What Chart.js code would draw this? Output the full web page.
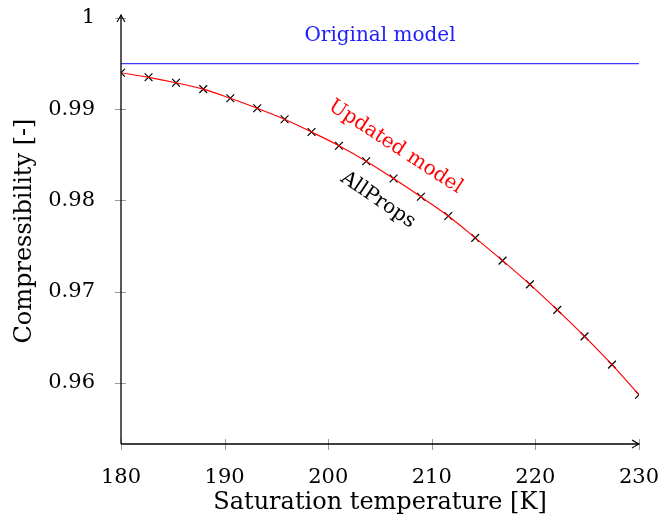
<!DOCTYPE html>
<html>
<head>
<meta charset="utf-8">
<script src="https://cdn.jsdelivr.net/npm/chart.js@4.4.1/dist/chart.umd.min.js"></script>
<style>
  html, body { margin: 0; padding: 0; background: #fff; }
  #wrap { width: 661px; height: 520px; }
</style>
</head>
<body>
<div id="wrap"><canvas id="chart"></canvas></div>
<script>
// values
const temps = [180, 182.66, 185.31, 187.94, 190.55, 193.15, 195.79, 198.39, 201.04, 203.67,
               206.31, 208.95, 211.59, 214.19, 216.83, 219.47, 222.11, 224.74, 227.39, 230];
const allProps = [0.9940, 0.9935, 0.9929, 0.9922, 0.9912, 0.9901, 0.9889, 0.9875, 0.9860, 0.9843,
                  0.9824, 0.9804, 0.9783, 0.9759, 0.9734, 0.9708, 0.9680, 0.9651, 0.9620, 0.9587];
const updatedModel = allProps;
const originalX = [180, 230];
const originalY = [0.995, 0.995];
const xTicks = [180, 190, 200, 210, 220, 230];
const yTicks = [0.96, 0.97, 0.98, 0.99, 1];

const FONT = '"DejaVu Serif", serif';

// label text: [text, x, y, angle(deg), colour, size]
const notes = [
  ['Original model', 205.0, 0.99804, 0, 'rgb(30,30,255)', 20],
  ['Updated model', 206.5, 0.98587, 33, 'rgb(255,0,0)', 20],
  ['AllProps', 204.8, 0.98005, 34, '#000', 20]
];

const axesPlugin = {
  id: 'axes',
  afterDraw(chart) {
    const ctx = chart.ctx;
    const xs = chart.scales.x, ys = chart.scales.y;
    const a = chart.chartArea;
    ctx.save();

    // tick marks crossing the axes
    ctx.strokeStyle = '#9a9a9a';
    ctx.lineWidth = 1;
    xTicks.forEach(v => {
      const px = Math.round(xs.getPixelForValue(v)) + 0.5;
      ctx.beginPath(); ctx.moveTo(px, a.bottom - 5); ctx.lineTo(px, a.bottom + 6); ctx.stroke();
    });
    yTicks.forEach(v => {
      const py = Math.round(ys.getPixelForValue(v)) + 0.5;
      ctx.beginPath(); ctx.moveTo(a.left - 6, py); ctx.lineTo(a.left + 5, py); ctx.stroke();
    });

    // axis lines with arrows
    ctx.strokeStyle = '#000';
    ctx.lineWidth = 1.3;
    const x0 = a.left, y0 = a.bottom, xEnd = xs.getPixelForValue(230), yEnd = ys.getPixelForValue(1) - 3;
    ctx.beginPath(); ctx.moveTo(x0, y0); ctx.lineTo(xEnd, y0); ctx.stroke();
    ctx.beginPath(); ctx.moveTo(x0, y0); ctx.lineTo(x0, yEnd); ctx.stroke();
    ctx.lineWidth = 1.1;
    ctx.beginPath();
    ctx.moveTo(xEnd - 7, y0 - 4); ctx.quadraticCurveTo(xEnd - 2, y0 - 1, xEnd, y0);
    ctx.quadraticCurveTo(xEnd - 2, y0 + 1, xEnd - 7, y0 + 4);
    ctx.stroke();
    ctx.beginPath();
    ctx.moveTo(x0 - 4, yEnd + 7); ctx.quadraticCurveTo(x0 - 1, yEnd + 2, x0, yEnd);
    ctx.quadraticCurveTo(x0 + 1, yEnd + 2, x0 + 4, yEnd + 7);
    ctx.stroke();

    // text labels
    notes.forEach(([txt, vx, vy, ang, col, size]) => {
      ctx.save();
      ctx.translate(xs.getPixelForValue(vx), ys.getPixelForValue(vy));
      ctx.rotate(ang * Math.PI / 180);
      ctx.font = size + 'px ' + FONT;
      ctx.fillStyle = col;
      ctx.textAlign = 'center';
      ctx.textBaseline = 'middle';
      ctx.fillText(txt, 0, 0);
      ctx.restore();
    });
    ctx.restore();
  }
};

// drop the label overflow padding so the layout padding alone sets the plot box
function noOverflow(s) {
  s.paddingTop = 0; s.paddingBottom = 0; s.paddingLeft = 0; s.paddingRight = 0;
}

new Chart(document.getElementById('chart'), {
  type: 'scatter',
  data: {
    datasets: [
      {
        label: 'Original model',
        data: originalX.map((x, i) => ({ x: x, y: originalY[i] })),
        showLine: true,
        borderColor: 'rgb(60,60,255)',
        borderWidth: 1.3,
        pointRadius: 0
      },
      {
        label: 'Updated model',
        data: temps.map((x, i) => ({ x: x, y: updatedModel[i] })),
        showLine: true,
        borderColor: 'rgb(255,0,0)',
        borderWidth: 1.2,
        tension: 0.4,
        cubicInterpolationMode: 'monotone',
        pointRadius: 0
      },
      {
        label: 'AllProps',
        data: temps.map((x, i) => ({ x: x, y: allProps[i] })),
        showLine: false,
        pointStyle: 'crossRot',
        pointRadius: 5.5,
        borderColor: '#000',
        borderWidth: 1.2
      }
    ]
  },
  options: {
    responsive: true,
    maintainAspectRatio: false,
    animation: false,
    layout: { padding: { left: 0, top: 18, right: 22, bottom: 0 } },
    plugins: { legend: { display: false }, tooltip: { enabled: false } },
    scales: {
      x: {
        type: 'linear',
        min: 180, max: 230,
        grid: { display: false },
        border: { display: false },
        afterFit(s) { s.height = 76; noOverflow(s); },
        afterBuildTicks(s) { s.ticks = xTicks.map(v => ({ value: v })); },
        ticks: { color: '#000', padding: 13, font: { family: FONT, size: 21 } },
        title: {
          display: true, text: 'Saturation temperature [K]', color: '#000',
          font: { family: FONT, size: 24 }, padding: { top: 0, bottom: 3 }
        }
      },
      y: {
        type: 'linear',
        min: 0.9533, max: 1.0,
        grid: { display: false },
        border: { display: false },
        afterFit(s) { s.width = 121; noOverflow(s); },
        afterBuildTicks(s) { s.ticks = yTicks.map(v => ({ value: v })); },
        ticks: {
          color: '#000', padding: 18, font: { family: FONT, size: 21 },
          callback: v => v === 1 ? '1' : v.toFixed(2)
        },
        title: {
          display: true, text: 'Compressibility [-]', color: '#000',
          font: { family: FONT, size: 24 }, padding: { top: 10, bottom: 0 }
        }
      }
    }
  },
  plugins: [axesPlugin]
});
</script>
</body>
</html>
